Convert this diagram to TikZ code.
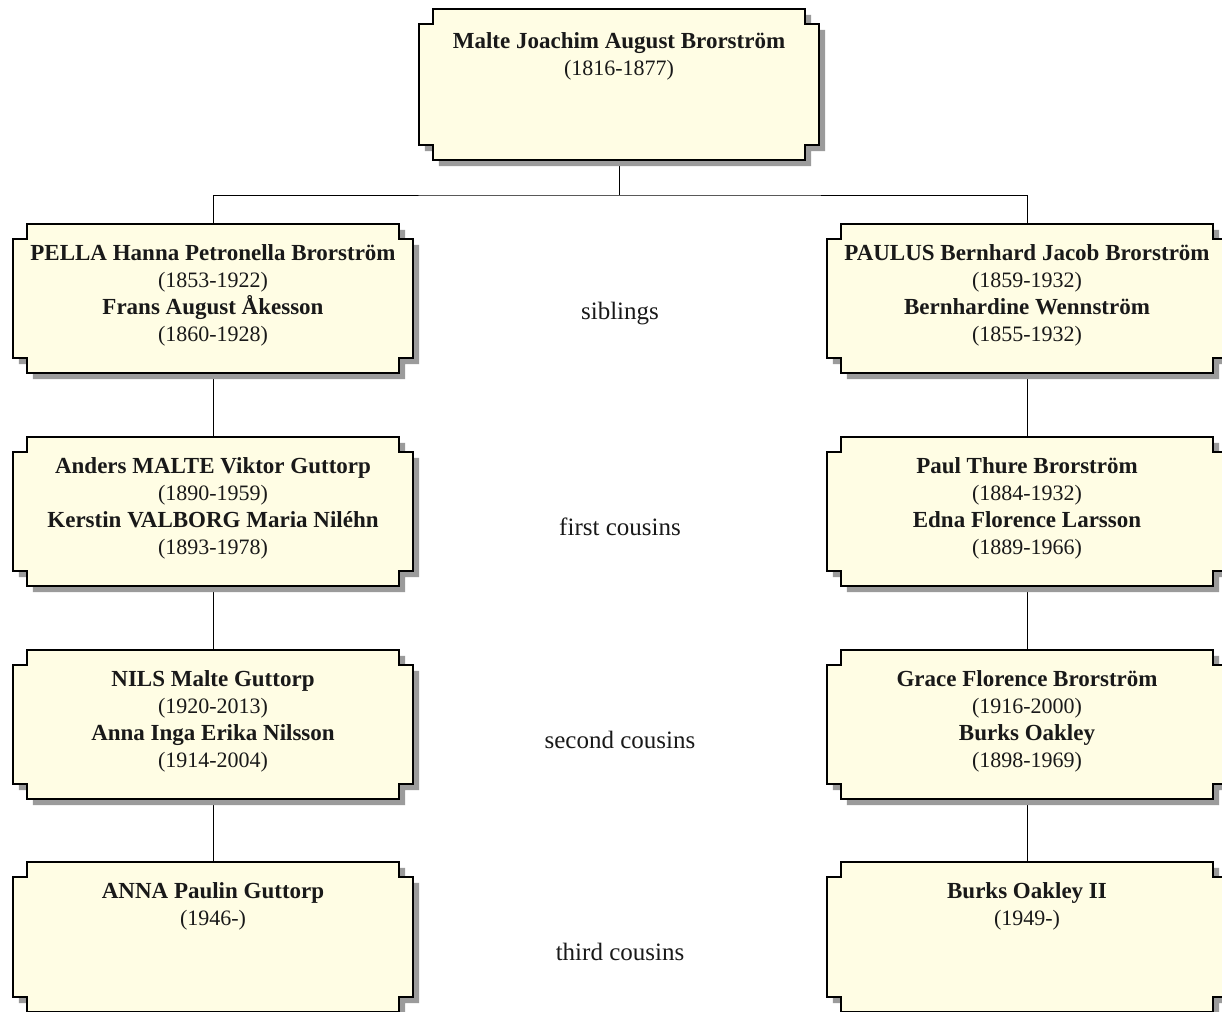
\documentclass[tikz,border=0pt]{standalone}
\usepackage{fontspec}
\setmainfont{Liberation Serif}
\usetikzlibrary{calc}
\definecolor{boxfill}{RGB}{255,253,228}
\definecolor{shadowgray}{RGB}{155,155,155}
\definecolor{inkcol}{RGB}{25,25,25}
% #1 node name, #2 x offset, #3 y offset
\newcommand\notchpath[3]{%
  ($(#1.north west)+(14+#2,#3)$) -- ($(#1.north east)+(-14+#2,#3)$) -- ++(0,-15) -- ++(14,0)
  -- ($(#1.south east)+(#2,15+#3)$) -- ++(-14,0) -- ++(0,-15) -- ($(#1.south west)+(14+#2,#3)$)
  -- ++(0,15) -- ++(-14,0) -- ($(#1.north west)+(#2,-15+#3)$) -- ++(14,0) -- cycle}
\newcommand\famframe[1]{%
  \fill[shadowgray] \notchpath{#1}{6}{-6};
  \filldraw[fill=boxfill,draw=black,line width=1.6pt,line join=miter] \notchpath{#1}{0}{0};}
\newcommand\nm[1]{{\fontsize{23}{27}\selectfont\bfseries #1}}
\tikzset{
  famnode/.style={shape=rectangle,draw=none,inner sep=0pt,minimum width=400pt,minimum height=149pt},
  famtext/.style={anchor=north,align=center,text=inkcol,font=\fontsize{22}{27}\selectfont,inner sep=0pt},
  gentext/.style={text=inkcol,font=\fontsize{25}{27}\selectfont},
  link/.style={draw=black,line width=1pt}
}
\begin{document}
\begin{tikzpicture}[x=1pt,y=1pt]
\useasboundingbox (0,-1011) rectangle (1222,0);
\clip (0,-1011) rectangle (1222,0);
% nodes (invisible frames)
\node[famnode,minimum height=151pt] (m) at (619,-84.5) {};
\node[famnode] (a1) at (213,-298.5) {};
\node[famnode] (a2) at (213,-511.5) {};
\node[famnode] (a3) at (213,-724.5) {};
\node[famnode,minimum height=150pt] (a4) at (213,-937) {};
\node[famnode] (b1) at (1027,-298.5) {};
\node[famnode] (b2) at (1027,-511.5) {};
\node[famnode] (b3) at (1027,-724.5) {};
\node[famnode,minimum height=150pt] (b4) at (1027,-937) {};
% connectors
\coordinate (j) at (m.south |- 0,-195);
\draw[link] (m.south) -- (j);
\draw[link] (a1.north) |- (j) -| (b1.north);
\draw[link] (a1.south) -- (a2.north);
\draw[link] (a2.south) -- (a3.north);
\draw[link] (a3.south) -- (a4.north);
\draw[link] (b1.south) -- (b2.north);
\draw[link] (b2.south) -- (b3.north);
\draw[link] (b3.south) -- (b4.north);
% frames
\famframe{m}
\famframe{a1}\famframe{a2}\famframe{a3}\famframe{a4}
\famframe{b1}\famframe{b2}\famframe{b3}\famframe{b4}
% texts
\node[famtext] (mt) at ([yshift=-23.5]m.north) {\nm{Malte Joachim August Brorström}\\(1816-1877)};
\node[famtext] (a1t) at ([yshift=-21]a1.north) {\nm{PELLA Hanna Petronella Brorström}\\(1853-1922)\\\nm{Frans August Åkesson}\\(1860-1928)};
\node[famtext] (a2t) at ([yshift=-21]a2.north) {\nm{Anders MALTE Viktor Guttorp}\\(1890-1959)\\\nm{Kerstin VALBORG Maria Niléhn}\\(1893-1978)};
\node[famtext] (a3t) at ([yshift=-21]a3.north) {\nm{NILS Malte Guttorp}\\(1920-2013)\\\nm{Anna Inga Erika Nilsson}\\(1914-2004)};
\node[famtext] (a4t) at ([yshift=-21]a4.north) {\nm{ANNA Paulin Guttorp}\\(1946-)};
\node[famtext] (b1t) at ([yshift=-21]b1.north) {\nm{PAULUS Bernhard Jacob Brorström}\\(1859-1932)\\\nm{Bernhardine Wennström}\\(1855-1932)};
\node[famtext] (b2t) at ([yshift=-21]b2.north) {\nm{Paul Thure Brorström}\\(1884-1932)\\\nm{Edna Florence Larsson}\\(1889-1966)};
\node[famtext] (b3t) at ([yshift=-21]b3.north) {\nm{Grace Florence Brorström}\\(1916-2000)\\\nm{Burks Oakley}\\(1898-1969)};
\node[famtext] (b4t) at ([yshift=-21]b4.north) {\nm{Burks Oakley II}\\(1949-)};
% generation labels
\node[gentext] (g1) at (620,-314) {siblings};
\node[gentext] (g2) at (620,-527) {first cousins};
\node[gentext] (g3) at (620,-740) {second cousins};
\node[gentext] (g4) at (620,-952) {third cousins};
\end{tikzpicture}
\end{document}
